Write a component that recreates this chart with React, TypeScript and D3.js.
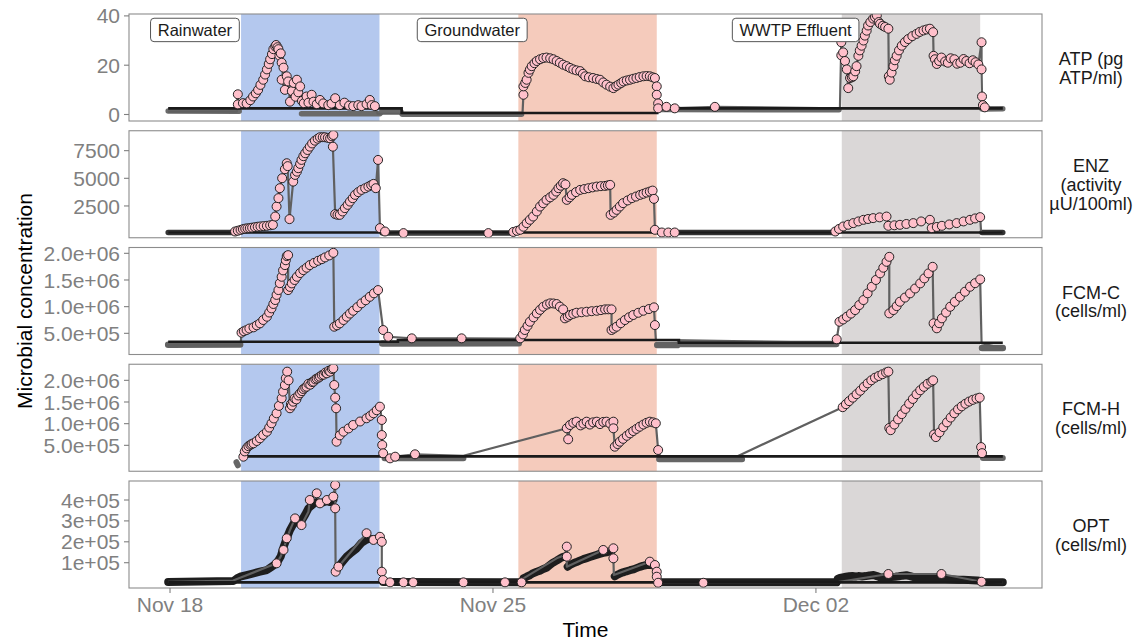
import React, { useLayoutEffect, useRef, useState } from "react";
import * as d3 from "d3";

type P = number[];
type B = number[] | null;

// ---------- time / categories ----------
const ORIGIN = Date.UTC(2019, 10, 18);
const toDate = (d: number) => new Date(ORIGIN + d * 86400000);

const xTickDates = ["2019-11-18", "2019-11-25", "2019-12-02"];
const xDomainDays = [-0.889, 18.9];

const phaseNames = ["Rainwater", "Groundwater", "WWTP Effluent"];
const phaseStart = [1.54, 7.55, 14.56];
const phaseEnd = [4.54, 10.55, 17.56];
const labelDays = [0.54, 6.55, 13.56];
const labelValue = 34.3;

const stripLabels = [
  ["ATP (pg", "ATP/ml)"],
  ["ENZ", "(activity", "µU/100ml)"],
  ["FCM-C", "(cells/ml)"],
  ["FCM-H", "(cells/ml)"],
  ["OPT", "(cells/ml)"],
];
const yDomains = [
  [-2.64, 40.77],
  [-375, 9300],
  [1.03e5, 2.109e6],
  [-9.8e4, 2.371e6],
  [-2.1e4, 4.909e5],
];
const yTickValues = [
  [0, 20, 40],
  [2500, 5000, 7500],
  [5e5, 1e6, 1.5e6, 2e6],
  [5e5, 1e6, 1.5e6, 2e6],
  [1e5, 2e5, 3e5, 4e5],
];
const yTickLabels = [
  ["0", "20", "40"],
  ["2500", "5000", "7500"],
  ["5.0e+05", "1.0e+06", "1.5e+06", "2.0e+06"],
  ["5.0e+05", "1.0e+06", "1.5e+06", "2.0e+06"],
  ["1e+05", "2e+05", "3e+05", "4e+05"],
];

// ---------- ATP ----------
const atpSeries: P[] = [
  [-0.04, 1.2, 0], [1.45, 1.2, 0],
  [1.47, 8.2], [1.47, 4.1], [1.58, 4.6], [1.66, 4.5], [1.74, 5.8], [1.8, 7.3], [1.86, 8.6], [1.91, 10.0], [1.96, 12.0], [2.02, 14.1], [2.06, 16.2], [2.1, 18.3], [2.14, 20.5], [2.17, 22.4], [2.21, 24.5], [2.24, 26.5], [2.28, 27.6], [2.3, 28.2], [2.33, 27.3], [2.35, 26.5], [2.37, 23.9], [2.4, 24.8], [2.42, 21.0], [2.46, 19.0], [2.42, 14.1], [2.49, 10.0], [2.53, 15.5], [2.56, 13.4], [2.6, 5.2], [2.64, 9.5], [2.68, 12.8], [2.72, 7.2], [2.75, 14.1], [2.78, 9.0], [2.82, 11.4], [2.86, 5.5], [2.9, 4.6], [2.96, 7.3], [3.0, 4.8], [3.07, 8.0], [3.11, 5.2], [3.18, 4.2], [3.25, 5.9], [3.32, 4.5], [3.43, 3.8], [3.5, 4.4], [3.58, 6.6], [3.68, 3.8], [3.78, 4.8], [3.88, 3.6], [3.97, 3.4], [4.08, 3.8], [4.15, 3.4], [4.26, 4.2], [4.33, 5.9], [4.37, 3.8], [4.44, 3.4],
  [4.5, 0.3, 0], [7.64, 0.3, 0],
  [7.66, 8.0], [7.66, 11.4], [7.7, 12.8], [7.73, 14.1], [7.77, 16.9], [7.8, 18.2], [7.84, 19.6], [7.9, 20.8], [7.95, 21.7], [8.02, 22.4], [8.09, 22.9], [8.16, 23.1], [8.24, 22.8], [8.31, 22.4], [8.38, 21.7], [8.45, 21.0], [8.52, 20.2], [8.6, 19.6], [8.67, 18.9], [8.74, 18.3], [8.81, 17.9], [8.89, 17.6], [8.95, 16.5], [9.0, 15.5], [9.08, 15.1], [9.17, 14.8], [9.25, 14.4], [9.32, 14.1], [9.39, 13.0], [9.46, 12.1], [9.54, 11.3], [9.61, 10.7], [9.67, 11.5], [9.72, 12.1], [9.78, 12.8], [9.83, 13.4], [9.9, 13.8], [9.97, 14.1], [10.04, 14.5], [10.11, 14.8], [10.18, 15.2], [10.26, 15.5], [10.33, 15.6], [10.4, 15.5], [10.46, 15.1], [10.51, 14.8], [10.55, 11.4], [10.55, 8.0], [10.58, 4.5], [10.58, 2.5], [10.76, 3.1], [10.94, 2.5], [11.81, 3.1],
  [14.52, 2.5, 0],
  [14.55, 29.3], [14.55, 24.0], [14.59, 25.2], [14.63, 21.7], [14.67, 18.3], [14.7, 10.7], [14.74, 14.8], [14.78, 15.1], [14.81, 15.5], [14.85, 17.5], [14.88, 19.6], [14.92, 23.8], [14.95, 26.0], [14.99, 27.9], [15.03, 30.0], [15.06, 32.0], [15.1, 34.0], [15.13, 36.1], [15.18, 37.5], [15.24, 38.9], [15.28, 39.5], [15.32, 40.2], [15.36, 37.5], [15.39, 36.8], [15.45, 36.0], [15.5, 35.5], [15.57, 34.8], [15.58, 15.5], [15.6, 14.1], [15.64, 17.0], [15.68, 19.6], [15.71, 22.0], [15.75, 23.8], [15.8, 26.0], [15.86, 27.9], [15.93, 29.4], [16.0, 30.6], [16.09, 31.8], [16.18, 32.7], [16.25, 33.5], [16.33, 34.1], [16.4, 34.5], [16.47, 34.8], [16.54, 33.4], [16.55, 23.8], [16.58, 22.4], [16.62, 20.5], [16.67, 21.7], [16.72, 23.1], [16.8, 21.5], [16.86, 21.0], [16.92, 22.8], [17.0, 22.4], [17.06, 20.6], [17.13, 21.0], [17.2, 22.5], [17.26, 21.7], [17.33, 20.8], [17.4, 22.0], [17.46, 21.2], [17.52, 20.3], [17.59, 29.3], [17.59, 18.3], [17.6, 7.3], [17.62, 3.8], [17.66, 2.9],
  [18.05, 2.5, 0],
];
const atpBand: B[] = [
  [-0.04, 1.4], [1.5, 1.3], null,
  [2.85, 0.3], [4.55, 0.3], [4.6, 1.4], [5.0, 1.4], [5.03, 0.1], [7.62, 0.1], null,
  [10.6, 2.0], [14.5, 1.9], null,
  [17.6, 2.2], [18.05, 2.3],
];
const atpRef: P[] = [[-0.04, 2.5], [5.02, 2.5], [5.02, 0.6], [10.56, 0.6], [10.56, 2.5], [18.05, 2.5]];

// ---------- ENZ ----------
const enzSeries: P[] = [
  [-0.04, 100, 0], [1.4, 100, 0],
  [1.41, 190], [1.47, 260], [1.53, 330], [1.58, 400], [1.63, 450], [1.68, 480], [1.73, 496], [1.78, 540], [1.84, 580], [1.9, 620], [1.96, 650], [2.03, 680], [2.1, 704], [2.17, 750], [2.23, 794], [2.28, 1543], [2.31, 2446], [2.35, 3204], [2.38, 4106], [2.43, 5009], [2.49, 5821], [2.53, 6363], [2.55, 6100], [2.59, 1309], [2.67, 4702], [2.71, 5307], [2.75, 5600], [2.78, 5911], [2.82, 6300], [2.85, 6661], [2.89, 7000], [2.93, 7265], [2.98, 7560], [3.03, 7861], [3.08, 8150], [3.14, 8403], [3.2, 8580], [3.25, 8709], [3.31, 8720], [3.36, 8709], [3.42, 8660], [3.47, 8619], [3.51, 8800], [3.54, 8917], [3.53, 7861], [3.58, 1760], [3.63, 1700], [3.68, 1697], [3.74, 2000], [3.79, 2301], [3.85, 2600], [3.9, 2897], [3.96, 3200], [4.01, 3502], [4.08, 3750], [4.15, 3953], [4.23, 4100], [4.3, 4251], [4.36, 4380], [4.41, 4494], [4.46, 4106], [4.51, 6661], [4.55, 496], [4.66, 190], [5.06, 45], [6.9, 45],
  [7.4, 100, 0], [7.44, 150], [7.52, 250], [7.59, 343], [7.66, 620], [7.73, 948], [7.8, 1250], [7.87, 1543], [7.95, 2000], [8.02, 2446], [8.09, 2750], [8.16, 3051], [8.24, 3280], [8.31, 3502], [8.37, 3800], [8.42, 4106], [8.47, 4330], [8.52, 4558], [8.57, 4450], [8.6, 3051], [8.66, 3280], [8.71, 3502], [8.8, 3750], [8.89, 3953], [8.98, 4030], [9.07, 4106], [9.16, 4180], [9.25, 4251], [9.34, 4290], [9.43, 4314], [9.49, 4360], [9.54, 4404], [9.55, 1697], [9.62, 1900], [9.68, 2148], [9.75, 2450], [9.82, 2753], [9.92, 3000], [10.01, 3204], [10.1, 3350], [10.19, 3502], [10.26, 3600], [10.33, 3709], [10.4, 3800], [10.46, 3890], [10.49, 3141], [10.51, 343], [10.66, 100], [10.8, 100], [10.94, 100],
  [14.4, 100, 0], [14.42, 190], [14.5, 420], [14.59, 641], [14.7, 800], [14.81, 948], [14.92, 1100], [15.03, 1245], [15.13, 1320], [15.24, 1399], [15.38, 1470], [15.53, 1543], [15.57, 704], [15.7, 750], [15.82, 794], [15.96, 870], [16.11, 948], [16.28, 1100], [16.47, 1245], [16.51, 496], [16.62, 600], [16.73, 704], [16.89, 830], [17.05, 948], [17.2, 1100], [17.34, 1245], [17.45, 1370], [17.56, 1489], [17.58, 150, 0], [18.05, 100, 0],
];
const enzBand: B[] = [
  [-0.04, 100], [1.42, 100], null,
  [4.6, 60], [7.45, 60], null,
  [10.6, 100], [14.45, 100], null,
  [17.6, 100], [18.05, 100],
];
const enzRef: P[] = [[-0.04, 100], [18.05, 100]];

// ---------- FCM-C ----------
const fcmcSeries: P[] = [
  [-0.04, 2.8e5, 0], [1.53, 2.8e5, 0],
  [1.55, 5.12e5], [1.6, 5.4e5], [1.66, 5.62e5], [1.72, 5.9e5], [1.81, 6.12e5], [1.88, 6.5e5], [1.95, 6.87e5], [2.02, 7.5e5], [2.1, 8.11e5], [2.15, 8.9e5], [2.2, 9.68e5], [2.24, 1.05e6], [2.28, 1.124e6], [2.31, 1.22e6], [2.35, 1.311e6], [2.38, 1.44e6], [2.42, 1.56e6], [2.45, 1.68e6], [2.49, 1.779e6], [2.51, 1.87e6], [2.53, 1.948e6], [2.56, 1.966e6], [2.56, 1.311e6], [2.6, 1.37e6], [2.64, 1.436e6], [2.7, 1.5e6], [2.75, 1.56e6], [2.82, 1.63e6], [2.89, 1.685e6], [2.96, 1.73e6], [3.03, 1.779e6], [3.12, 1.82e6], [3.21, 1.86e6], [3.29, 1.89e6], [3.36, 1.923e6], [3.45, 1.96e6], [3.54, 2.009e6], [3.56, 6.24e5], [3.62, 6.5e5], [3.68, 6.87e5], [3.76, 7.5e5], [3.83, 8.11e5], [3.9, 8.7e5], [3.97, 9.23e5], [4.06, 9.9e5], [4.15, 1.062e6], [4.24, 1.12e6], [4.33, 1.185e6], [4.42, 1.25e6], [4.51, 1.311e6], [4.62, 5.62e5], [4.73, 4.36e5], [5.24, 4.06e5], [6.32, 4.06e5],
  [7.57, 4.0e5, 0], [7.59, 4.06e5], [7.65, 4.8e5], [7.69, 5.62e5], [7.75, 6.4e5], [7.8, 7.17e5], [7.88, 8.0e5], [7.95, 8.74e5], [8.02, 9.4e5], [8.09, 9.98e5], [8.17, 1.04e6], [8.24, 1.062e6], [8.31, 1.06e6], [8.38, 1.049e6], [8.45, 1.0e6], [8.52, 9.49e5], [8.56, 7.81e5], [8.62, 8.1e5], [8.67, 8.43e5], [8.74, 8.65e5], [8.81, 8.86e5], [8.92, 8.95e5], [9.03, 9.05e5], [9.14, 9.15e5], [9.25, 9.23e5], [9.34, 9.35e5], [9.43, 9.49e5], [9.5, 9.5e5], [9.57, 9.49e5], [9.57, 5.62e5], [9.62, 5.9e5], [9.68, 6.24e5], [9.77, 6.9e5], [9.86, 7.49e5], [9.95, 8.0e5], [10.04, 8.43e5], [10.15, 8.85e5], [10.26, 9.23e5], [10.38, 9.55e5], [10.49, 9.87e5], [10.51, 6.55e5], [10.53, 3.8e5, 0],
  [14.43, 3.2e5, 0], [14.45, 3.88e5], [14.51, 7.17e5], [14.59, 7.6e5], [14.67, 8.11e5], [14.76, 8.7e5], [14.85, 9.36e5], [14.94, 1.03e6], [15.03, 1.124e6], [15.12, 1.25e6], [15.21, 1.373e6], [15.3, 1.5e6], [15.39, 1.624e6], [15.46, 1.73e6], [15.53, 1.841e6], [15.59, 1.934e6], [15.59, 8.74e5], [15.68, 9.36e5], [15.75, 1.01e6], [15.82, 1.092e6], [15.93, 1.17e6], [16.04, 1.249e6], [16.15, 1.34e6], [16.26, 1.436e6], [16.35, 1.53e6], [16.44, 1.624e6], [16.53, 1.747e6], [16.55, 6.87e5], [16.62, 5.94e5], [16.67, 6.9e5], [16.73, 7.81e5], [16.82, 8.9e5], [16.91, 9.98e5], [17.01, 1.09e6], [17.12, 1.185e6], [17.23, 1.28e6], [17.34, 1.373e6], [17.45, 1.44e6], [17.56, 1.511e6], [17.59, 3.13e5, 0], [18.05, 2.2e5, 0],
];
const fcmcBand: B[] = [
  [-0.04, 2.85e5], [1.52, 2.9e5], null,
  [4.6, 3.1e5], [7.56, 3.15e5], null,
  [10.56, 2.8e5], [11.0, 2.8e5], [11.03, 3.0e5], [14.44, 3.0e5], null,
  [17.6, 2.25e5], [18.05, 2.25e5],
];
const fcmcRef: P[] = [[-0.04, 3.43e5], [4.94, 3.43e5], [4.94, 3.75e5], [11.03, 3.75e5], [11.03, 3.24e5], [18.05, 3.24e5]];

// ---------- FCM-H ----------
const fcmhSeries: P[] = [
  [1.52, 2.0e5, 0],
  [1.59, 2.38e5], [1.62, 3.6e5], [1.66, 4.31e5], [1.7, 4.8e5], [1.74, 5.1e5], [1.77, 5.3e5], [1.81, 5.47e5], [1.88, 6.0e5], [1.95, 6.62e5], [2.02, 7.4e5], [2.1, 8.15e5], [2.15, 9.1e5], [2.2, 1.009e6], [2.25, 1.12e6], [2.31, 1.239e6], [2.36, 1.41e6], [2.42, 1.585e6], [2.45, 1.74e6], [2.49, 1.892e6], [2.51, 2.05e6], [2.54, 2.2e6], [2.57, 2.0e6], [2.6, 1.355e6], [2.62, 1.45e6], [2.64, 1.42e6], [2.67, 1.507e6], [2.7, 1.58e6], [2.74, 1.56e6], [2.78, 1.65e6], [2.82, 1.701e6], [2.86, 1.75e6], [2.89, 1.8e6], [2.93, 1.83e6], [2.96, 1.853e6], [3.0, 1.92e6], [3.04, 1.9e6], [3.08, 1.96e6], [3.11, 1.969e6], [3.15, 2.02e6], [3.18, 2.04e6], [3.22, 2.06e6], [3.25, 2.085e6], [3.29, 2.12e6], [3.33, 2.13e6], [3.37, 2.18e6], [3.4, 2.162e6], [3.44, 2.22e6], [3.47, 2.2e6], [3.51, 2.26e6], [3.54, 2.278e6], [3.56, 1.892e6], [3.58, 1.6e6], [3.6, 1.355e6], [3.61, 5.84e5], [3.68, 7.3e5], [3.76, 8.15e5], [3.87, 8.9e5], [3.97, 9.69e5], [4.12, 1.05e6], [4.26, 1.124e6], [4.34, 1.18e6], [4.41, 1.239e6], [4.48, 1.31e6], [4.55, 1.392e6], [4.59, 1.085e6], [4.59, 7.38e5], [4.6, 5.08e5], [4.62, 3.16e5], [4.77, 2.0e5], [4.88, 2.38e5], [5.31, 2.93e5], [6.36, 2.6e5, 0],
  [8.6, 8.93e5], [8.63, 6.39e5], [8.67, 9.69e5], [8.74, 1.02e6], [8.81, 1.046e6], [8.9, 9.6e5], [8.96, 1.0e6], [9.03, 1.046e6], [9.1, 9.8e5], [9.17, 1.03e6], [9.25, 1.046e6], [9.32, 9.9e5], [9.39, 1.04e6], [9.46, 1.046e6], [9.54, 1.0e6], [9.61, 1.046e6], [9.61, 8.93e5], [9.64, 4.69e5], [9.7, 5.3e5], [9.75, 5.84e5], [9.82, 6.5e5], [9.9, 7.2e5], [9.97, 7.76e5], [10.04, 8.3e5], [10.11, 8.8e5], [10.18, 9.3e5], [10.26, 9.8e5], [10.33, 1.02e6], [10.4, 1.046e6], [10.47, 1.03e6], [10.53, 1.008e6], [10.58, 3.92e5], [10.62, 2.5e5, 0],
  [12.3, 2.5e5, 0],
  [14.58, 1.38e6], [14.65, 1.45e6], [14.72, 1.52e6], [14.8, 1.6e6], [14.88, 1.68e6], [14.96, 1.76e6], [15.04, 1.85e6], [15.12, 1.93e6], [15.2, 2.0e6], [15.28, 2.06e6], [15.36, 2.1e6], [15.44, 2.14e6], [15.52, 2.18e6], [15.57, 2.2e6], [15.59, 9.0e5], [15.62, 8.5e5], [15.7, 9.8e5], [15.78, 1.1e6], [15.86, 1.22e6], [15.94, 1.34e6], [16.02, 1.46e6], [16.1, 1.57e6], [16.18, 1.68e6], [16.26, 1.77e6], [16.34, 1.85e6], [16.42, 1.92e6], [16.5, 1.97e6], [16.54, 2.0e6], [16.56, 7.5e5], [16.6, 6.9e5], [16.68, 8.0e5], [16.76, 9.2e5], [16.84, 1.03e6], [16.92, 1.14e6], [17.0, 1.24e6], [17.08, 1.33e6], [17.16, 1.4e6], [17.24, 1.46e6], [17.32, 1.51e6], [17.4, 1.55e6], [17.48, 1.58e6], [17.55, 1.6e6], [17.58, 4.6e5], [17.6, 3.2e5], [17.65, 2.5e5, 0], [18.05, 2.4e5, 0],
];
const fcmhBand: B[] = [
  [1.44, 1.1e5], [1.47, 4.0e4], null,
  [4.65, 2.0e5], [6.36, 2.0e5], null,
  [10.6, 1.8e5], [12.4, 1.8e5], null,
  [17.62, 2.05e5], [18.05, 2.05e5],
];
const fcmhRef: P[] = [[1.55, 2.45e5], [18.05, 2.45e5]];

// ---------- OPT ----------
const optSeries: P[] = [
  [-0.04, 8e3, 0], [1.37, 1.5e4, 0], [2.31, 9.7e4], [2.4, 1.3e5, 0], [2.46, 1.61e5], [2.53, 2.17e5], [2.6, 2.56e5, 0], [2.71, 3.12e5], [2.85, 2.8e5], [3.0, 3.44e5, 0], [3.03, 4.0e5], [3.18, 4.32e5], [3.25, 3.84e5], [3.4, 4.0e5], [3.54, 4.16e5], [3.58, 4.72e5], [3.58, 3.6e5], [3.59, 5.7e4], [3.65, 8.1e4], [4.26, 2.41e5], [4.41, 2.09e5], [4.55, 2.24e5], [4.59, 2.0e5], [4.59, 5.7e4], [4.62, 1.7e4], [4.77, 6e3], [5.06, 6e3], [5.27, 6e3], [6.36, 6e3], [7.26, 6e3], [7.62, 6e3],
  [7.66, 2.5e4, 0], [8.38, 1.21e5, 0], [8.56, 1.37e5, 0], [8.6, 1.77e5], [8.6, 1.29e5], [8.6, 8.1e4, 0], [9.39, 1.61e5], [9.61, 1.69e5], [9.61, 1.21e5], [9.62, 4.1e4, 0], [10.4, 1.05e5], [10.51, 8.9e4], [10.55, 5.7e4], [10.55, 3.3e4], [10.58, 4e3], [11.56, 4e3],
  [14.45, 6e3, 0], [15.57, 4.6e4], [16.72, 4.6e4], [17.59, 9e3], [18.05, 6e3, 0],
];
const optBand: B[] = [
  [-0.04, 8e3], [1.37, 1.2e4], [1.45, 2.5e4], [1.52, 3.3e4], [1.66, 4.1e4], [1.81, 4.9e4], [1.95, 5.7e4], [2.1, 6.5e4], [2.2, 8.0e4], [2.31, 9.7e4], [2.4, 1.3e5], [2.46, 1.75e5], [2.53, 2.17e5], [2.6, 2.56e5], [2.71, 3.0e5], [2.78, 2.9e5], [2.85, 3.0e5], [2.93, 3.3e5], [3.0, 3.6e5], [3.1, 3.8e5], [3.18, 3.9e5], [3.25, 3.84e5], [3.33, 3.9e5], [3.4, 3.95e5], [3.47, 3.9e5], [3.54, 4.0e5], null,
  [3.61, 6.5e4], [3.65, 8.1e4], [3.74, 1.05e5], [3.83, 1.29e5], [3.94, 1.5e5], [4.05, 1.69e5], [4.15, 1.95e5], [4.26, 2.1e5], [4.33, 2.15e5], [4.41, 2.09e5], [4.48, 2.15e5], [4.55, 2.2e5], null,
  [4.62, 8e3], [7.64, 6e3], [7.66, 2.5e4], [7.73, 3.3e4], [7.8, 4.0e4], [7.87, 5.0e4], [7.95, 5.7e4], [8.02, 6.2e4], [8.09, 7.0e4], [8.16, 7.6e4], [8.23, 8.8e4], [8.3, 1.0e5], [8.38, 1.1e5], [8.45, 1.2e5], [8.52, 1.28e5], [8.56, 1.3e5], null,
  [8.62, 8.1e4], [8.67, 9.0e4], [8.74, 9.7e4], [8.81, 1.03e5], [8.88, 1.1e5], [8.96, 1.17e5], [9.03, 1.22e5], [9.1, 1.27e5], [9.17, 1.32e5], [9.24, 1.37e5], [9.31, 1.42e5], [9.39, 1.47e5], [9.46, 1.5e5], [9.56, 1.55e5], null,
  [9.64, 3.5e4], [9.69, 4.2e4], [9.75, 4.8e4], [9.82, 5.4e4], [9.89, 5.9e4], [9.97, 6.4e4], [10.04, 6.8e4], [10.11, 7.4e4], [10.18, 8.0e4], [10.25, 8.5e4], [10.33, 8.9e4], [10.42, 9.0e4], [10.51, 8.5e4], null,
  [10.58, 6e3], [14.45, 6e3], [14.47, 2.2e4], [14.52, 2.7e4], [14.58, 3.0e4], [14.65, 3.3e4], [14.72, 3.5e4], [14.79, 3.6e4], [14.86, 3.4e4], [14.92, 3.6e4], [15.0, 3.4e4], [15.08, 3.6e4], [15.16, 3.9e4], [15.25, 4.1e4], [15.32, 3.6e4], [15.4, 2.9e4], [15.48, 3.0e4], [15.56, 3.1e4], [15.64, 3.2e4], [15.72, 3.3e4], [15.8, 3.5e4], [15.88, 3.8e4], [15.96, 4.0e4], [16.04, 3.6e4], [16.12, 3.1e4], [16.2, 2.8e4], [16.3, 2.7e4], [16.4, 2.6e4], [16.5, 2.5e4], [16.6, 2.4e4], [16.7, 2.3e4], [16.8, 2.2e4], [16.9, 2.1e4], [17.0, 2.0e4], [17.1, 1.9e4], [17.2, 1.8e4], [17.3, 1.7e4], [17.4, 1.6e4], [17.5, 1.5e4], [17.56, 1.3e4], [17.6, 6e3], [18.05, 6e3],
];
const optRef: P[] = [[-0.04, 6e3], [18.05, 6e3]];

const allSeries = [atpSeries, enzSeries, fcmcSeries, fcmhSeries, optSeries];
const allBands = [atpBand, enzBand, fcmcBand, fcmhBand, optBand];
const allRefs = [atpRef, enzRef, fcmcRef, fcmhRef, optRef];

// ---------- layout / style ----------
const W = 1141, H = 642;
const FONT = "'Liberation Sans', Arial, Helvetica, sans-serif";
const PL = 129, PR = 1042, PT = 14, PH = 107, PS = 116.75;
const phaseFill = ["#b4c8ee", "#f5cbbc", "#dad7d7"];
const bandColor = ["#6a6a6a", "#333333", "#626262", "#666666", "#1e1e1e"];
const bandWidth = [5.5, 5.5, 6.5, 6, 8];

export default function App() {
  const x = d3.scaleTime().domain(xDomainDays.map(toDate)).range([PL, PR]);
  const X = (d: number) => x(toDate(d)) as number;

  const labelRefs = useRef<(SVGTextElement | null)[]>([]);
  const [labelW, setLabelW] = useState<number[]>(phaseNames.map((n) => n.length * 8.5));
  useLayoutEffect(() => {
    const ws = labelRefs.current.map((el, i) => (el ? el.getBBox().width : labelW[i]));
    setLabelW(ws);
  }, []);

  const atpY = d3.scaleLinear().domain(yDomains[0]).range([PT + PH, PT]);

  return (
    <svg width={W} height={H} style={{ position: "absolute", left: 0, top: 0, background: "#fff" }} fontFamily={FONT}>
      <defs>
        {stripLabels.map((_, i) => (
          <clipPath id={`clip${i}`} key={i}>
            <rect x={PL} y={PT + i * PS} width={PR - PL} height={PH} />
          </clipPath>
        ))}
      </defs>
      {stripLabels.map((lines, i) => {
        const top = PT + i * PS;
        const bottom = top + PH;
        const y = d3.scaleLinear().domain(yDomains[i]).range([bottom, top]);
        const line = d3.line<P>().x((p) => X(p[0])).y((p) => y(p[1]));
        const band = d3
          .line<B>()
          .defined((p) => p !== null)
          .x((p) => X((p as number[])[0]))
          .y((p) => y((p as number[])[1]));
        const series = allSeries[i];
        const center = (top + bottom) / 2;
        const lh = 18.8;
        const firstBase = center + 7 - ((lines.length - 1) * lh) / 2;
        return (
          <g key={i}>
            <rect x={PL} y={top} width={PR - PL} height={PH} fill="#fff" />
            <g clipPath={`url(#clip${i})`}>
              {phaseNames.map((_, k) => (
                <rect key={k} x={X(phaseStart[k])} y={top} width={X(phaseEnd[k]) - X(phaseStart[k])} height={PH} fill={phaseFill[k]} />
              ))}
              <path d={band(allBands[i]) || ""} fill="none" stroke={bandColor[i]} strokeWidth={bandWidth[i]} strokeLinecap="round" strokeLinejoin="round" />
              <path d={line(series) || ""} fill="none" stroke="#606060" strokeWidth={2.2} strokeLinejoin="round" />
              <path d={line(allRefs[i]) || ""} fill="none" stroke="#1a1a1a" strokeWidth={2.6} />
              {series
                .filter((p) => p.length < 3 || p[2] !== 0)
                .map((p, j) => (
                  <circle key={j} cx={X(p[0])} cy={y(p[1])} r={4.5} fill="#ffc0cb" stroke="#1a1a1a" strokeWidth={0.95} />
                ))}
            </g>
            <rect x={PL} y={top} width={PR - PL} height={PH} fill="none" stroke="#8c8c8c" strokeWidth={1.1} />
            {yTickValues[i].map((v, k) => (
              <g key={k}>
                <line x1={PL - 5} x2={PL} y1={y(v)} y2={y(v)} stroke="#7f7f7f" strokeWidth={1.1} />
                <text x={PL - 9} y={y(v)} dy="0.36em" textAnchor="end" fontSize={21} fill="#808080">
                  {yTickLabels[i][k]}
                </text>
              </g>
            ))}
            <text fontSize={18} fill="#1a1a1a" textAnchor="middle">
              {lines.map((s, k) => (
                <tspan key={k} x={1091} y={firstBase + k * lh}>
                  {s}
                </tspan>
              ))}
            </text>
          </g>
        );
      })}
      {phaseNames.map((n, k) => {
        const cx = X(labelDays[k]);
        const cy = atpY(labelValue);
        const w = labelW[k] + 14;
        return (
          <g key={k}>
            <rect x={cx - w / 2} y={cy - 11.7} width={w} height={23.4} rx={3.5} fill="#fff" stroke="#555" strokeWidth={1} />
            <text ref={(el) => { labelRefs.current[k] = el; }} x={cx} y={cy} dy="0.36em" textAnchor="middle" fontSize={16.5} fill="#1a1a1a">
              {n}
            </text>
          </g>
        );
      })}
      {xTickDates.map((s, k) => {
        const dt = new Date(s + "T00:00:00Z");
        const px = x(dt) as number;
        const bottom = PT + 4 * PS + PH;
        return (
          <g key={k}>
            <line x1={px} x2={px} y1={bottom} y2={bottom + 5} stroke="#7f7f7f" strokeWidth={1.1} />
            <text x={px} y={bottom + 23.5} textAnchor="middle" fontSize={21} fill="#808080">
              {d3.utcFormat("%b %d")(dt)}
            </text>
          </g>
        );
      })}
      <text x={(PL + PR) / 2} y={636.5} textAnchor="middle" fontSize={21} fill="#000">
        Time
      </text>
      <text transform={`translate(31.5, ${PT + (4 * PS + PH) / 2}) rotate(-90)`} textAnchor="middle" fontSize={21} fill="#000">
        Microbial concentration
      </text>
    </svg>
  );
}
